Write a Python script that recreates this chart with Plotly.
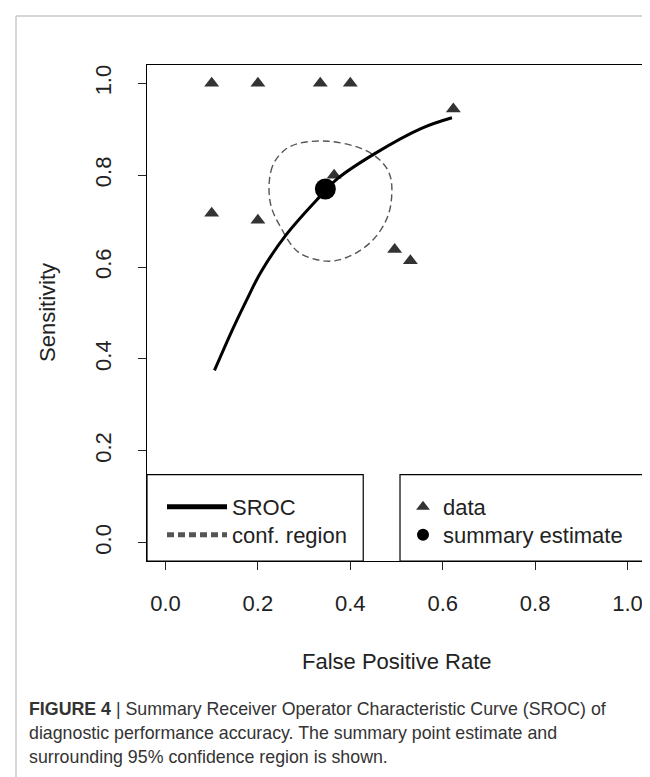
import plotly.graph_objects as go

# ---- data ----
data_fpr = [0.100, 0.200, 0.335, 0.400, 0.100, 0.200, 0.365, 0.496, 0.530, 0.623]
data_sens = [1.000, 1.000, 1.000, 1.000, 0.717, 0.702, 0.800, 0.638, 0.614, 0.944]

summary_fpr = [0.346]
summary_sens = [0.770]

sroc_fpr = [0.106, 0.146, 0.175, 0.207, 0.261, 0.330, 0.373, 0.453, 0.554, 0.620]
sroc_sens = [0.375, 0.466, 0.527, 0.590, 0.670, 0.749, 0.793, 0.847, 0.902, 0.925]

conf_fpr = [0.224, 0.228, 0.236, 0.258, 0.287, 0.352, 0.424, 0.464, 0.484, 0.490,
            0.482, 0.449, 0.395, 0.348, 0.287, 0.247, 0.229, 0.224]
conf_sens = [0.770, 0.808, 0.829, 0.855, 0.869, 0.874, 0.858, 0.833, 0.805, 0.771,
             0.713, 0.659, 0.622, 0.613, 0.633, 0.691, 0.731, 0.770]

tick_vals = [0.0, 0.2, 0.4, 0.6, 0.8, 1.0]
tick_text = ["0.0", "0.2", "0.4", "0.6", "0.8", "1.0"]

x_title = "False Positive Rate"
y_title = "Sensitivity"
caption_lines = [
    "<b>FIGURE 4</b> | Summary Receiver Operator Characteristic Curve (SROC) of",
    "diagnostic performance accuracy. The summary point estimate and",
    "surrounding 95% confidence region is shown.",
]

# ---- geometry helpers (pixel -> paper) ----
W, H = 650, 777
L, R, T, B = 139, 638, 57, 553
pw, ph = R - L, B - T


def px(x):
    return (x - L) / pw


def py(y):
    return (B - y) / ph


FONT = "Liberation Sans, Arial, sans-serif"
AX_SIZE = 22
TXT = "#222222"

fig = go.Figure()

fig.add_trace(go.Scatter(
    x=data_fpr, y=data_sens, mode="markers", name="data",
    marker=dict(symbol="triangle-up", size=13, color="#333333"),
    legend="legend3",
))
fig.add_trace(go.Scatter(
    x=conf_fpr, y=conf_sens, mode="lines", name="conf. region",
    line=dict(color="#555555", width=1.4, dash="7px,4px", shape="spline", smoothing=1),
    legend="legend2",
))
fig.add_trace(go.Scatter(
    x=sroc_fpr, y=sroc_sens, mode="lines", name="SROC",
    line=dict(color="black", width=3, shape="spline", smoothing=1),
    legend="legend",
))
fig.add_trace(go.Scatter(
    x=summary_fpr, y=summary_sens, mode="markers", name="summary estimate",
    marker=dict(symbol="circle", size=21, color="black"),
    legend="legend4",
))

axis_common = dict(
    range=[-0.04, 1.04], tickvals=tick_vals, ticktext=tick_text,
    showgrid=False, zeroline=False, showline=True, mirror=True,
    linecolor="black", linewidth=1.3, ticks="outside", ticklen=8,
    tickwidth=1.2, tickcolor=TXT,
    tickfont=dict(family=FONT, size=AX_SIZE, color=TXT),
    fixedrange=True,
)


def leg(xpix, ypix, itemwidth):
    return dict(
        x=px(xpix), y=py(ypix), xanchor="left", yanchor="middle",
        bgcolor="rgba(0,0,0,0)", borderwidth=0, itemwidth=itemwidth,
        font=dict(family=FONT, size=AX_SIZE, color=TXT),
        itemsizing="constant", tracegroupgap=0,
    )


fig.update_layout(
    width=W, height=H,
    margin=dict(l=L, r=W - R, t=T, b=H - B, autoexpand=False),
    paper_bgcolor="white", plot_bgcolor="white",
    xaxis=dict(**axis_common, ticklabelstandoff=14),
    yaxis=dict(**axis_common, tickangle=-90, ticklabelstandoff=18),
    showlegend=True,
    legend=leg(154, 499, 60),
    legend2=leg(154, 527, 60),
    legend3=leg(395, 499, 30),
    legend4=leg(395, 527, 30),
)

# legend boxes (as in the R plot)
fig.add_shape(type="rect", xref="x", yref="y", x0=-0.04, x1=0.428, y0=-0.04, y1=0.148,
              line=dict(color="black", width=1.2), fillcolor="white", layer="above")
fig.add_shape(type="rect", xref="x", yref="y", x0=0.5076, x1=1.04, y0=-0.04, y1=0.148,
              line=dict(color="black", width=1.2), fillcolor="white", layer="above")

# outer frame (left and top edges)
fig.add_shape(type="line", xref="paper", yref="paper", x0=px(8), x1=px(8), y0=py(8), y1=py(H + 2),
              line=dict(color="#c8c8c8", width=1.5))
fig.add_shape(type="line", xref="paper", yref="paper", x0=px(8), x1=px(W + 2), y0=py(8), y1=py(8),
              line=dict(color="#c8c8c8", width=1.5))

# axis titles
fig.add_annotation(text=x_title, xref="paper", yref="paper", x=0.5, y=py(653),
                   xanchor="center", yanchor="middle", showarrow=False,
                   font=dict(family=FONT, size=AX_SIZE, color=TXT))
fig.add_annotation(text=y_title, xref="paper", yref="paper", x=px(39), y=0.5,
                   xanchor="center", yanchor="middle", showarrow=False, textangle=-90,
                   font=dict(family=FONT, size=AX_SIZE, color=TXT))

# caption
for i, line in enumerate(caption_lines):
    fig.add_annotation(text=line, xref="paper", yref="paper", x=px(19), y=py(701 + 24 * i),
                       xanchor="left", yanchor="middle", showarrow=False, align="left",
                       font=dict(family=FONT, size=17.8, color="#333333"))

fig.write_html("out.html")
